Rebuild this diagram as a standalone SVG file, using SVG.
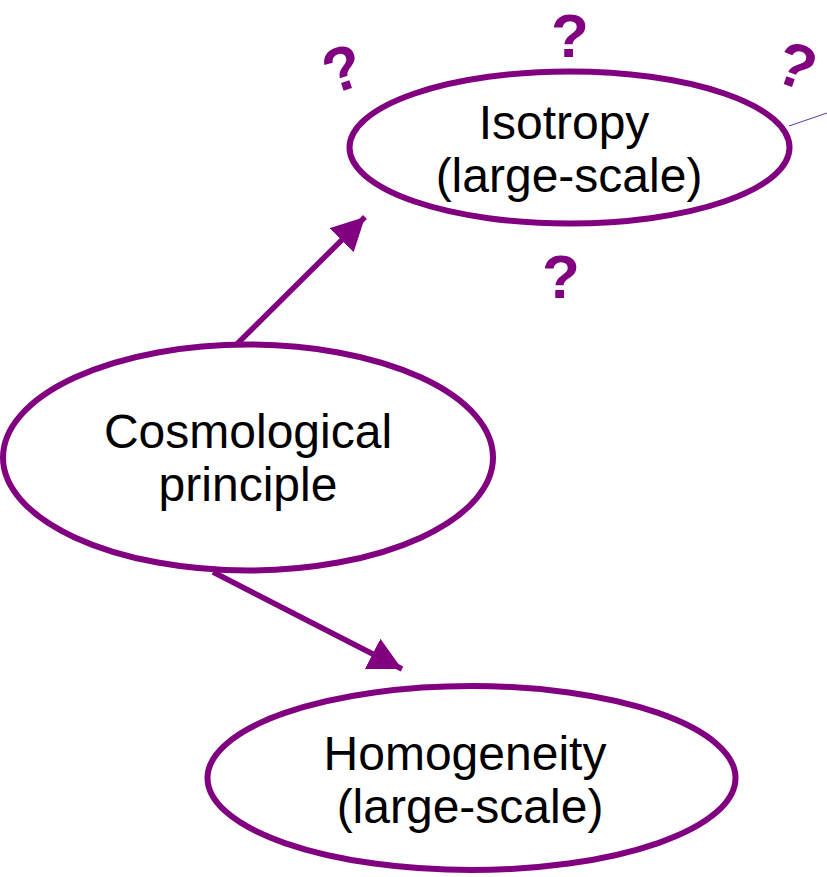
<svg xmlns="http://www.w3.org/2000/svg" width="827" height="877" viewBox="0 0 827 877">
<defs>
<style>
.node{fill:#fff;stroke:#800080;stroke-width:6}
.lbl{font-family:"Liberation Sans",Arial,sans-serif;font-size:48px;fill:#000;text-anchor:middle}
.q{font-family:"Liberation Sans",Arial,sans-serif;font-size:62px;font-weight:bold;fill:#800080;text-anchor:middle}
.edge{stroke:#800080;stroke-width:5.5;fill:none}
</style>
<marker id="ah" viewBox="0 0 10 10" refX="10" refY="5" markerWidth="6" markerHeight="6.2" markerUnits="strokeWidth" orient="auto" preserveAspectRatio="none">
<path d="M0,0 L10,5 L0,10 z" fill="#800080"/>
</marker>
</defs>
<g id="connectors">
<line class="edge" x1="237" y1="344" x2="365" y2="217" marker-end="url(#ah)"/>
<line class="edge" x1="213" y1="572" x2="402" y2="669" marker-end="url(#ah)"/>
<line x1="789" y1="126" x2="827" y2="113" stroke="#5a3c9a" stroke-width="1"/>
</g>
<g id="isotropy">
<ellipse class="node" cx="569.5" cy="147.5" rx="220" ry="76"/>
<text class="lbl" x="564" y="139">Isotropy</text>
<text class="lbl" x="569" y="192">(large-scale)</text>
</g>
<g id="cosmological">
<ellipse class="node" cx="248" cy="457.5" rx="245" ry="113"/>
<text class="lbl" x="248" y="448">Cosmological</text>
<text class="lbl" x="248" y="501">principle</text>
</g>
<g id="homogeneity">
<ellipse class="node" cx="471.5" cy="778" rx="264" ry="92"/>
<text class="lbl" x="465" y="770">Homogeneity</text>
<text class="lbl" x="470" y="823">(large-scale)</text>
</g>
<g id="questions">
<text class="q" x="570" y="57">?</text>
<text class="q" x="561" y="298">?</text>
<text class="q" x="0" y="0" transform="translate(349,89) rotate(-18)">?</text>
<text class="q" x="0" y="0" transform="translate(789,86) rotate(20)">?</text>
</g>
</svg>
